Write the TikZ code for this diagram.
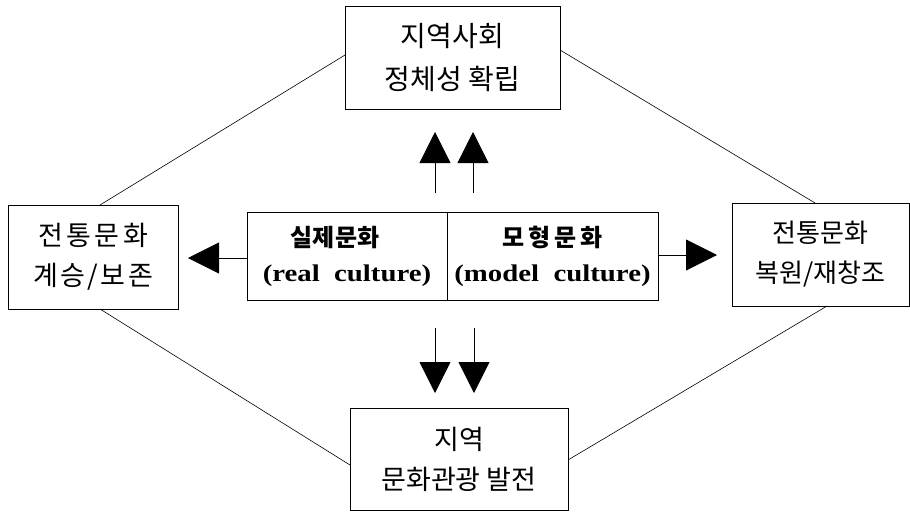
\documentclass[tikz,border=0pt]{standalone}
\usepackage{fontspec}
\setmainfont{Liberation Serif}
\newfontfamily\kr{Noto Sans CJK KR}
\newfontfamily\latbold[FakeStretch=1.2]{Liberation Serif Bold}
\usetikzlibrary{arrows.meta}
\begin{document}
\begin{tikzpicture}[x=1pt,y=-1pt,
  box/.style={draw, line width=1pt, inner sep=0pt, align=center,
    font=\kr\fontsize{27}{40}\selectfont},
  midbox/.style={draw, line width=1pt, inner sep=0pt, align=center,
    minimum height=88pt, font=\fontsize{24}{35}\selectfont},
  link/.style={line width=0.6pt},
  bigarrow/.style={line width=0.8pt, -{Triangle[width=31pt,length=31pt]}}]
\useasboundingbox (0,0) rectangle (910,512);
\node[box, minimum width=215pt, minimum height=103pt, font=\kr\fontsize{28}{43}\selectfont] (top) at (452.5,57.5) {지역사회\\정체성 확립};
\node[box, minimum width=170pt, minimum height=104pt] (left) at (93,257) {전\kern3.5pt 통\kern3.5pt 문\kern3.5pt 화\\계\kern2.5pt 승\kern2.5pt /\kern2.5pt 보\kern2.5pt 존};
\node[box, minimum width=177pt, minimum height=103pt, font=\kr\fontsize{26}{40}\selectfont] (right) at (820.5,254.5) {전통문화\\복원/재창조};
\node[box, minimum width=218pt, minimum height=102pt] (bottom) at (459,459) {지역\\문화관광 발전};
\node[midbox, minimum width=200pt] (real) at (347,256) {{\kr\bfseries 실제문화\kern24pt}\\{\latbold (real~~culture)}};
\node[midbox, minimum width=211pt] (model) at (552.5,256) {{\kr\bfseries 모\kern4pt 형\kern4pt 문\kern4pt 화}\\{\latbold (model~~culture)}};
% diagonals
\coordinate (tl1) at (100,205); \coordinate (tl2) at (345,55);
\coordinate (tr1) at (560,50); \coordinate (tr2) at (815,203);
\coordinate (bl1) at (100,309); \coordinate (bl2) at (350,465);
\coordinate (br1) at (568,460); \coordinate (br2) at (827,306);
\draw[link] (tl1) -- (tl2);
\draw[link] (tr1) -- (tr2);
\draw[link] (bl1) -- (bl2);
\draw[link] (br1) -- (br2);
% arrows
\coordinate (u1a) at (435,193); \coordinate (u1b) at (435,132);
\coordinate (u2a) at (473,193); \coordinate (u2b) at (473,132);
\coordinate (d1a) at (435,328); \coordinate (d1b) at (435,393);
\coordinate (d2a) at (474,328); \coordinate (d2b) at (474,393);
\coordinate (la) at (247,258); \coordinate (lb) at (188,258);
\coordinate (ra) at (658,255); \coordinate (rb) at (717,255);
\draw[bigarrow] (u1a) -- (u1b);
\draw[bigarrow] (u2a) -- (u2b);
\draw[bigarrow] (d1a) -- (d1b);
\draw[bigarrow] (d2a) -- (d2b);
\draw[bigarrow] (la) -- (lb);
\draw[bigarrow] (ra) -- (rb);
\end{tikzpicture}
\end{document}
